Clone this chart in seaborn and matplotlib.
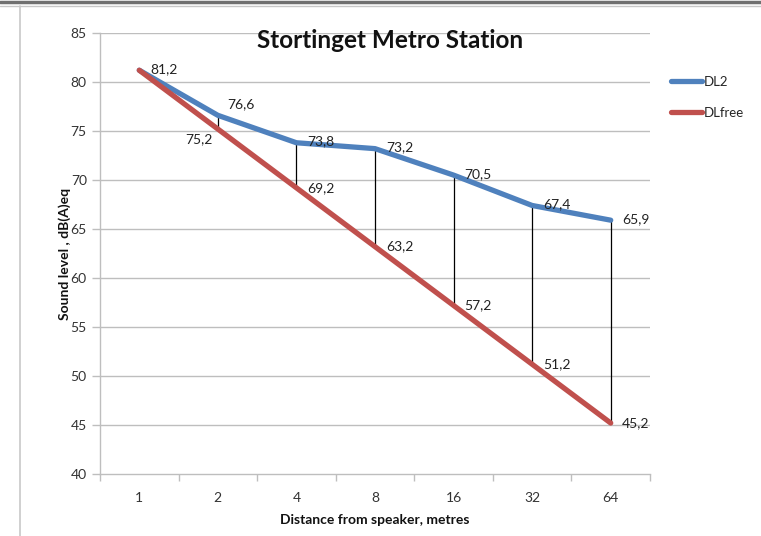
import matplotlib
matplotlib.use("Agg")
import matplotlib.pyplot as plt
from matplotlib.lines import Line2D
import seaborn as sns
import pandas as pd

distances = ["1", "2", "4", "8", "16", "32", "64"]
dl2 = [81.2, 76.6, 73.8, 73.2, 70.5, 67.4, 65.9]
dlfree = [81.2, 75.2, 69.2, 63.2, 57.2, 51.2, 45.2]
series_names = ["DL2", "DLfree"]
yticks = [40, 45, 50, 55, 60, 65, 70, 75, 80, 85]

sns.set_theme(style="white")
plt.rcParams["font.family"] = ["Lato", "DejaVu Sans"]

pos = list(range(len(distances)))
df = pd.DataFrame({
    "pos": pos * 2,
    "level": dl2 + dlfree,
    "series": [series_names[0]] * len(pos) + [series_names[1]] * len(pos),
})

fig = plt.figure(figsize=(7.61, 5.36), dpi=100)
ax = fig.add_axes([100 / 761, 1 - 474 / 536, 550 / 761, 441 / 536])

blue = "#4F81BD"
red = "#C0504D"
grid_c = "#BEBEBE"

ax.set_ylim(40, 85)
ax.set_xlim(-0.5, len(pos) - 0.5)
ax.set_yticks(yticks)
for y in yticks[1:]:
    ax.axhline(y, color=grid_c, lw=1.0, zorder=0)

# differences between the measured and free-field levels
ax.vlines(pos[1:], dlfree[1:], dl2[1:], color="black", lw=0.9, zorder=1)

sns.lineplot(data=df, x="pos", y="level", hue="series",
             palette={series_names[0]: blue, series_names[1]: red},
             lw=3.8, ax=ax, legend=False, zorder=2,
             solid_capstyle="round", solid_joinstyle="round")

# data labels
lab_fs = 10
def fmt(v):
    return f"{v:.1f}".replace(".", ",")

for i, v in enumerate(dl2):
    if i == 1:
        off, ha, va = (7, 8), "left", "center"
    else:
        off, ha, va = (8, 1), "left", "center"
    ax.annotate(fmt(v), (pos[i], v), xytext=off, textcoords="offset points",
                ha=ha, va=va, fontsize=lab_fs, color="#222222", zorder=3)
for i, v in enumerate(dlfree):
    if i == 0:
        continue
    if i == 1:
        off, ha = (-4, -7), "right"
    else:
        off, ha = (8, 0), "left"
    ax.annotate(fmt(v), (pos[i], v), xytext=off, textcoords="offset points",
                ha=ha, va="center", fontsize=lab_fs, color="#222222", zorder=3)

ax.set_xticks(pos)
ax.set_xticklabels(distances)
ax.set_xticks([p - 0.5 for p in pos] + [len(pos) - 0.5], minor=True)
ax.tick_params(axis="x", which="major", length=0, pad=13, labelsize=10,
               labelcolor="#333333")
ax.tick_params(axis="x", which="minor", length=5, width=1, color=grid_c,
               direction="out", bottom=True)
ax.tick_params(axis="y", which="major", length=6, width=1, color=grid_c,
               direction="out", left=True, labelsize=10, labelcolor="#333333", pad=3.5)

for s in ["top", "right"]:
    ax.spines[s].set_visible(False)
for s in ["left", "bottom"]:
    ax.spines[s].set_color(grid_c)
    ax.spines[s].set_linewidth(1.0)
ax.grid(False)

ax.set_xlabel("Distance from speaker, metres", fontsize=10, fontweight="bold",
              labelpad=7, color="#111111")
ax.set_ylabel("Sound level , dB(A)eq", fontsize=10, fontweight="bold",
              labelpad=0, color="#111111")
fig.text(390 / 761, 1 - 40 / 536, "Stortinget Metro Station", ha="center",
         va="center", fontsize=17.5, fontweight="bold", color="#111111")

handles = [Line2D([], [], color=blue, lw=3.8, solid_capstyle="round"),
           Line2D([], [], color=red, lw=3.8, solid_capstyle="round")]
fig.legend(handles, series_names, loc="upper left",
           bbox_to_anchor=(664 / 761, 1 - 69 / 536), frameon=False,
           fontsize=9.5, handlelength=2.4, handletextpad=0.1, labelspacing=1.45,
           borderpad=0)

# window frame
fig.add_artist(Line2D([0, 1], [1 - 1.5 / 536] * 2, color="#707070", lw=2.5,
                      transform=fig.transFigure))
fig.add_artist(Line2D([0, 1], [1 - 5.5 / 536] * 2, color="#C8C8C8", lw=1,
                      transform=fig.transFigure))
fig.add_artist(Line2D([19.5 / 761] * 2, [0, 1 - 5.5 / 536], color="#C8C8C8",
                      lw=1.2, transform=fig.transFigure))

fig.savefig("out.png", dpi=100)
